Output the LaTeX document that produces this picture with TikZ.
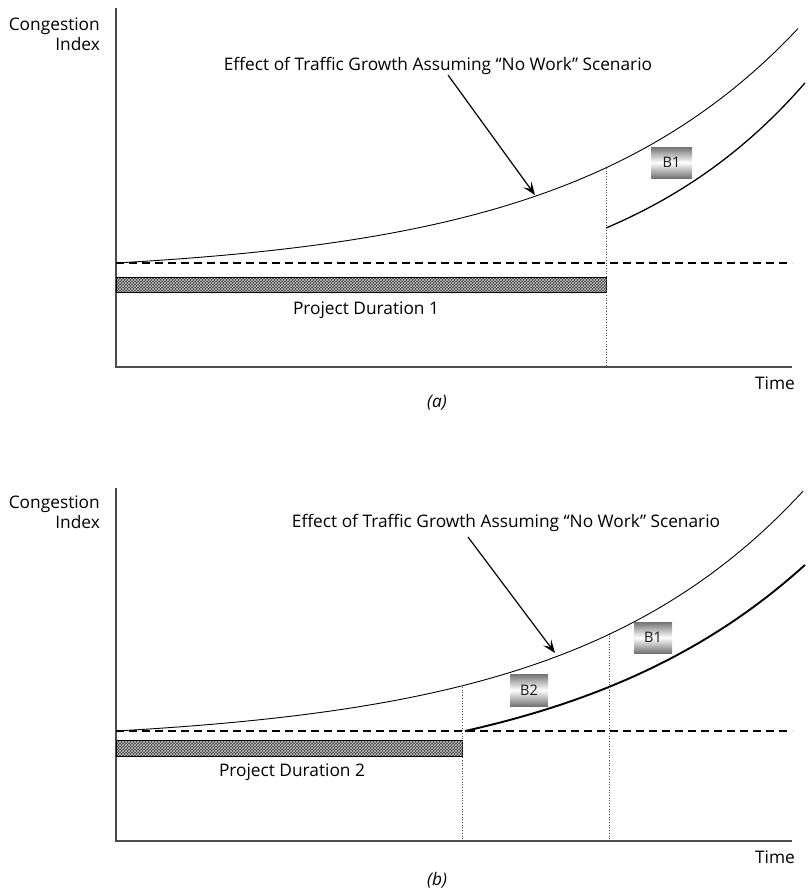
\documentclass[tikz,border=0pt]{standalone}
\usepackage{fontspec}
\setmainfont{Open Sans}
\usetikzlibrary{patterns,arrows.meta}
\begin{document}
\begin{tikzpicture}[x=1pt,y=-1pt,
  lbl/.style={font=\fontsize{17.3}{20}\selectfont, inner sep=0pt, text=black},
  axisline/.style={draw=black!70, line width=1.3pt},
  curve/.style={draw=black, line width=0.9pt},
  curvethick/.style={draw=black, line width=1.9pt},
  curvemid/.style={draw=black, line width=1.3pt},
  refline/.style={draw=black, line width=1.2pt, dash pattern=on 8pt off 5pt},
  guide/.style={draw=black!70, line width=0.7pt, dotted},
  pointer/.style={draw=black, line width=1.2pt, -{Stealth[length=13pt,width=10pt,inset=5.5pt]}},
  bbox/.style={shading=axis, top color=black!55, bottom color=black!55, middle color=white,
     font=\fontsize{14.5}{16}\selectfont, text=black!90, inner sep=0pt},
  durbar/.style={fill=black!80},
  durpat/.style={pattern=crosshatch, pattern color=white!80!black},
]
\useasboundingbox (0,0) rectangle (807,892);

% ---------------- panel (a) ----------------
\coordinate (oA) at (116,367);
\coordinate (yA) at (116,8);
\coordinate (xA) at (792,367);
\draw[axisline] (yA) -- (oA) -- (xA);
\node[lbl, align=right, anchor=east] (congA) at (100,34) {Congestion\\Index};
\node[lbl] (timeA) at (775,383) {Time};
\node[lbl, font=\fontsize{17.3}{20}\selectfont\itshape] (capA) at (437,403) {(a)};

\coordinate (dlA1) at (116,263);
\coordinate (dlA2) at (792,263);
\draw[refline] (dlA1) -- (dlA2);

\fill[durbar] (116,277) rectangle (606,292);
\fill[durpat] (116,277) rectangle (606,292);
\draw[black, line width=0.9pt] (116,277) rectangle (606,292);
\node[lbl] (projA) at (366,310) {Project Duration 1};

\draw[curve] plot[domain=116:798, samples=90] (\x,{263-13.16*(exp(0.0043*(\x-116))-1)});
\draw[curvemid] plot[domain=606:805, samples=60] (\x,{228-85*(exp(0.005*(\x-606))-1)});

\coordinate (gA1) at (606,168);
\coordinate (gA2) at (606,367);
\draw[guide] (gA1) -- (gA2);

\node[bbox, minimum width=41pt, minimum height=31pt] (b1A) at (671.5,162.5) {B1};

\node[lbl] (effA) at (438,66) {Effect of Traffic Growth Assuming “No Work” Scenario};
\coordinate (arA1) at (448,75);
\coordinate (arA2) at (535,195);
\draw[pointer] (arA1) -- (arA2);

% ---------------- panel (b) ----------------
\coordinate (oB) at (116,841);
\coordinate (yB) at (116,488);
\coordinate (xB) at (792,841);
\draw[axisline] (yB) -- (oB) -- (xB);
\node[lbl, align=right, anchor=east] (congB) at (100,512) {Congestion\\Index};
\node[lbl] (timeB) at (775,857) {Time};
\node[lbl, font=\fontsize{17.3}{20}\selectfont\itshape] (capB) at (437,880) {(b)};

\coordinate (dlB1) at (116,731);
\coordinate (dlB2) at (792,731);
\draw[refline] (dlB1) -- (dlB2);

\fill[durbar] (116,740) rectangle (462,756);
\fill[durpat] (116,740) rectangle (462,756);
\draw[black, line width=0.9pt] (116,740) rectangle (462,756);
\node[lbl] (projB) at (292,772) {Project Duration 2};

\draw[curve] plot[domain=116:803, samples=90] (\x,{731-13.16*(exp(0.0043*(\x-116))-1)});
\draw[curvethick] plot[domain=465:805, samples=70] (\x,{731-54.7*(exp(0.0041*(\x-465))-1)});

\coordinate (gB1) at (462,687);
\coordinate (gB2) at (462,841);
\draw[guide] (gB1) -- (gB2);
\coordinate (gB3) at (609,633);
\coordinate (gB4) at (609,841);
\draw[guide] (gB3) -- (gB4);

\node[bbox, minimum width=38pt, minimum height=31pt] (b1B) at (653,637.5) {B1};
\node[bbox, minimum width=38pt, minimum height=32pt] (b2B) at (529,690) {B2};

\node[lbl] (effB) at (506,523) {Effect of Traffic Growth Assuming “No Work” Scenario};
\coordinate (arB1) at (468,537);
\coordinate (arB2) at (555,653);
\draw[pointer] (arB1) -- (arB2);
\end{tikzpicture}
\end{document}
